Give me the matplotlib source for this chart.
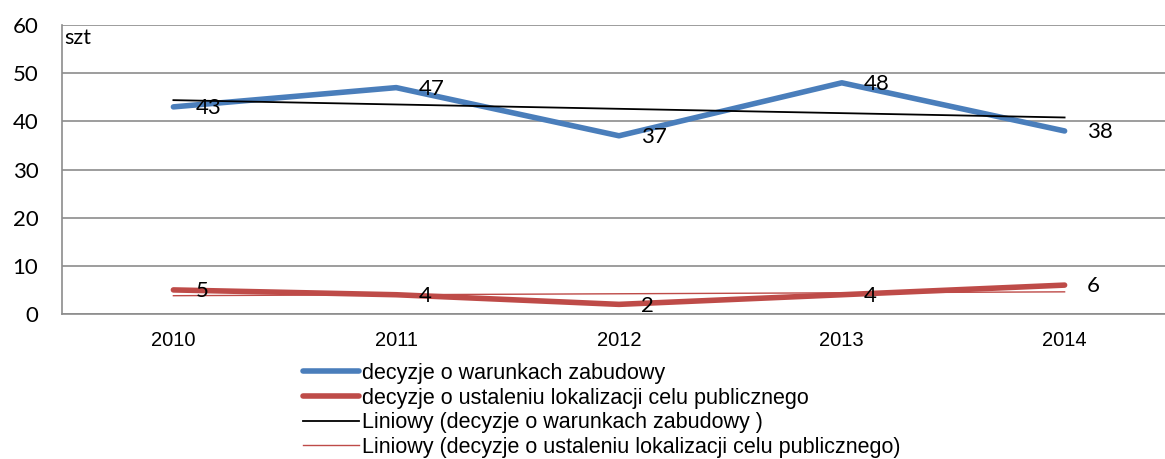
import matplotlib
matplotlib.use("Agg")
import matplotlib.pyplot as plt
import numpy as np

years = ["2010", "2011", "2012", "2013", "2014"]
warunki = [43, 47, 37, 48, 38]
lokalizacja = [5, 4, 2, 4, 6]
y_ticks = [0, 10, 20, 30, 40, 50, 60]

names = ["decyzje o warunkach zabudowy",
         "decyzje o ustaleniu lokalizacji celu publicznego",
         "Liniowy (decyzje o warunkach zabudowy )",
         "Liniowy (decyzje o ustaleniu lokalizacji celu publicznego)"]

BLUE = "#4A7EBB"
RED = "#BE4B48"
num_font = "Lato"

W, H = 1165, 459
fig = plt.figure(figsize=(W / 100, H / 100), dpi=100)
# axes in pixel coords: left 62, right 1176 (cropped), top 25, bottom 314
ax = fig.add_axes([62 / W, 1 - 314 / H, (1176 - 62) / W, (314 - 25) / H])

x = np.arange(len(years))
ax.plot(x, warunki, color=BLUE, lw=4, solid_capstyle="round", label=names[0], zorder=3)
ax.plot(x, lokalizacja, color=RED, lw=4, solid_capstyle="round", label=names[1], zorder=3)

# linear trend lines
p1 = np.polyfit(x, warunki, 1)
p2 = np.polyfit(x, lokalizacja, 1)
ax.plot(x, np.polyval(p1, x), color="black", lw=1.3, label=names[2], zorder=4)
ax.plot(x, np.polyval(p2, x), color=RED, lw=1.0, label=names[3], zorder=2)

for xi, v in zip(x, warunki):
    ax.annotate(str(v), (xi, v), xytext=(16, -1), textcoords="offset points",
                va="center", ha="left", fontsize=16, family=num_font, zorder=5)
for xi, v in zip(x, lokalizacja):
    ax.annotate(str(v), (xi, v), xytext=(16, -1), textcoords="offset points",
                va="center", ha="left", fontsize=16, family=num_font, zorder=5)

ax.set_xlim(-0.5, 4.5)
ax.set_ylim(0, 60)
ax.set_yticks(y_ticks)
ax.set_yticklabels([str(t) for t in y_ticks], family=num_font, fontsize=16)
ax.set_xticks(x)
ax.set_xticklabels(years, family="Liberation Sans", fontsize=14.5)
ax.tick_params(axis="both", length=0)
ax.tick_params(axis="y", pad=17)
ax.tick_params(axis="x", pad=12)
ax.grid(axis="y", color="#8C8C8C", lw=1.2)
ax.set_axisbelow(True)
for s in ["top", "right"]:
    ax.spines[s].set_visible(False)
for s in ["left", "bottom"]:
    ax.spines[s].set_color("#8C8C8C")
    ax.spines[s].set_linewidth(1.2)

ax.text(0.002, 0.99, "szt", transform=ax.transAxes, ha="left", va="top",
        fontsize=15.5, family=num_font)

fig.legend(loc="upper left", bbox_to_anchor=(303 / W, 1 - 363 / H), frameon=False,
           prop={"family": "Liberation Sans", "size": 15.5}, handlelength=2.6,
           handletextpad=0.15, labelspacing=0.17, borderpad=0, borderaxespad=0)

fig.savefig("out.png", dpi=100)
